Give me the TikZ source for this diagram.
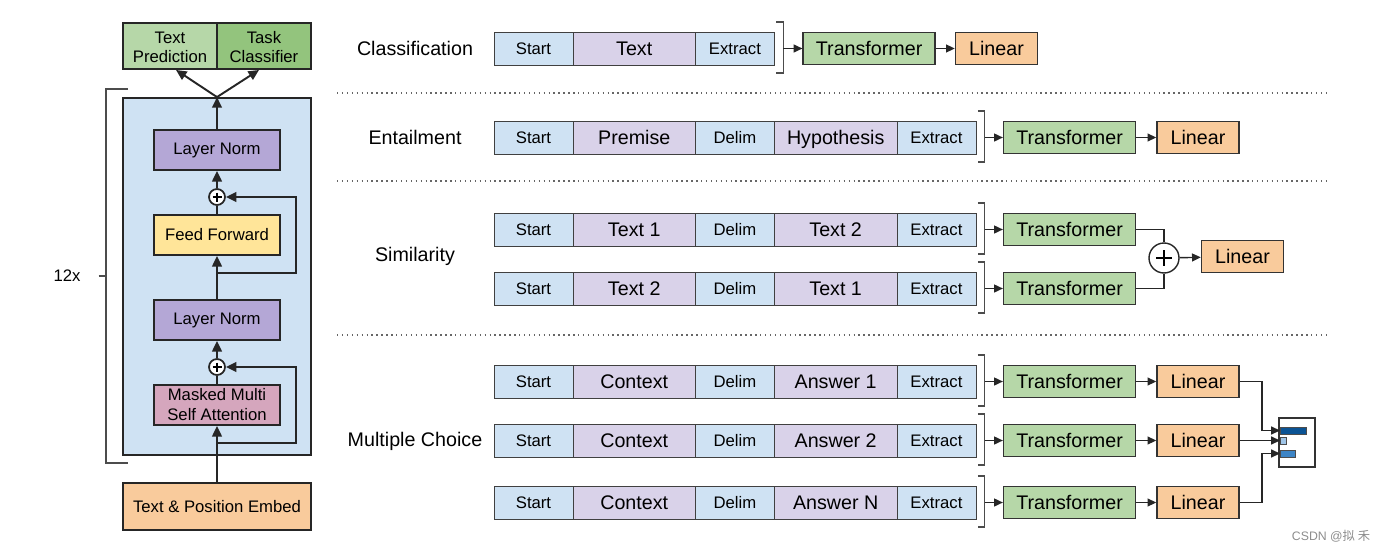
\documentclass[tikz,border=0pt]{standalone}
\usepackage{fontspec}
\setmainfont{Liberation Sans}
\newfontfamily\cjkfont{Noto Sans CJK SC}
\usetikzlibrary{arrows.meta,positioning,calc}
\definecolor{tokblue}{HTML}{CFE2F3}
\definecolor{tokpurple}{HTML}{D9D2E9}
\definecolor{normpurple}{HTML}{B4A7D6}
\definecolor{ffyellow}{HTML}{FFE599}
\definecolor{attpink}{HTML}{D5A6BD}
\definecolor{linorange}{HTML}{F9CB9C}
\definecolor{trfgreen}{HTML}{B6D7A8}
\definecolor{clsgreen}{HTML}{93C47D}
\definecolor{bardark}{HTML}{0B5394}
\definecolor{barmid}{HTML}{3D85C6}
\definecolor{barlight}{HTML}{9FC5E8}
\newcommand\tokfont{\fontsize{9.5}{11.4}\selectfont}
\newcommand\lblfont{\fontsize{11.2}{13.4}\selectfont}
\tikzset{
  tok/.style={draw=black!75, fill=tokblue, minimum width=1.58cm, minimum height=0.66cm, inner sep=0pt, outer sep=0pt, text height=7.8pt, text depth=1pt, font=\tokfont},
  wtok/.style={tok, fill=tokpurple, minimum width=2.45cm, text height=9pt, font=\lblfont},
  trf/.style={draw=black!80, thick, fill=trfgreen, minimum width=2.64cm, minimum height=0.63cm, inner sep=0pt, text height=9pt, text depth=1pt, font=\lblfont},
  lin/.style={trf, fill=linorange, minimum width=1.64cm},
  blkpart/.style={draw=black!85, line width=1.1pt, minimum width=2.52cm, minimum height=0.8cm, inner sep=0pt, align=center, font=\tokfont},
  pls/.style={circle, draw=black!85, line width=1pt, fill=white, minimum size=0.32cm, inner sep=0pt},
  arr/.style={-{Triangle[length=6pt,width=5.5pt]}, line width=1.1pt, black!85},
  wire/.style={line width=1.1pt, black!85},
  arr2/.style={-{Triangle[length=5pt,width=4.5pt]}, line width=0.8pt, black!85},
  wire2/.style={line width=0.8pt, black!85},
  brk/.style={line width=0.6pt, black!70},
  sep/.style={dotted, line width=0.8pt, black!60},
  lbl/.style={font=\lblfont}
}
\begin{document}
\begin{tikzpicture}[x=0.02cm, y=-0.02cm]
  \useasboundingbox (0,0) rectangle (1386,551);
  % left: transformer block
  \node[blkpart, fill=trfgreen, minimum width=1.88cm, minimum height=0.92cm, font=\fontsize{9.5}{11.3}\selectfont] (pred) at (170,46) {\rule{0pt}{1.6ex}Text\\Prediction};
  \node[blkpart, fill=clsgreen, minimum width=1.88cm, minimum height=0.92cm, font=\fontsize{9.5}{11.3}\selectfont] (clsf) at (264,46) {\rule{0pt}{1.6ex}Task\\Classifier};
  \node[blkpart, fill=tokblue, minimum width=3.76cm, minimum height=7.14cm] (blk) at (217,276.5) {};
  \node[blkpart, fill=normpurple] (ln1) at (217,150) {Layer Norm};
  \node[pls] (p1) at (217,197) {};
  \node[blkpart, fill=ffyellow] (ff) at (217,235) {Feed Forward};
  \node[blkpart, fill=normpurple] (ln2) at (217,320) {Layer Norm};
  \node[pls] (p2) at (217,367) {};
  \node[blkpart, fill=attpink] (att) at (217,405) {Masked Multi\\Self Attention};
  \node[blkpart, fill=linorange, minimum width=3.76cm, minimum height=0.94cm] (emb) at (217,506.5) {Text \& Position Embed};
  \foreach \p in {p1,p2}{
    \draw[line width=1pt] ($(\p)+(-4.5,0)$) -- ($(\p)+(4.5,0)$) ($(\p)+(0,-4.5)$) -- ($(\p)+(0,4.5)$);
  }
  \coordinate (r1) at (217,273);
  \coordinate (r2) at (217,443);
  \draw[arr] (emb) -- (att);
  \draw[wire] (att) -- (p2);
  \draw[arr] (r2) -- (296,443) |- (p2);
  \draw[arr] (p2) -- (ln2);
  \draw[arr] (ln2) -- (ff);
  \draw[wire] (ff) -- (p1);
  \draw[arr] (r1) -- (296,273) |- (p1);
  \draw[arr] (p1) -- (ln1);
  \draw[arr] (ln1) -- (blk.north);
  \draw[arr] (blk.north) -- ([xshift=0.12cm]pred.south);
  \draw[arr] (blk.north) -- ([xshift=-0.1cm]clsf.south);
  \node[font=\tokfont] (rep) at (67,276) {12x};
  \draw[brk] (128,89) -- (106,89) -- (106,463) -- (128,463);
  \draw[brk] ([xshift=0.24cm]rep.east) -- (106,276);
  % task labels and separators
  \node[lbl] (tcls) at (415,48) {Classification};
  \node[lbl] (tent) at (415,137) {Entailment};
  \node[lbl] (tsim) at (415,256) {Similarity};
  \node[lbl] (tmc) at (415,441) {Multiple Choice};
  \foreach \y in {93,181,335}{\draw[sep] (337,\y) -- (1327,\y);}
  % classification
  \node[tok, anchor=west] (c-s) at (494,48.5) {Start};
  \node[wtok, right=0pt of c-s] (c-a) {Text};
  \node[tok, right=0pt of c-a] (c-x) {Extract};
  \draw[brk] ($(c-x.north east)+(2,-10)$) -- ++(7,0) -- ($(c-x.south east)+(9,8)$) -- ++(-7,0);
  \coordinate (c-k) at ($(c-x.east)+(9,0)$);
  \node[trf, right=0.56cm of c-x] (c-t) {Transformer};
  \node[lin, right=0.38cm of c-t] (c-l) {Linear};
  \draw[arr2] (c-k) -- (c-t);
  \draw[arr2] (c-t) -- (c-l);
  % two-part inputs
  \foreach \r/\y/\a/\b in {e/137.5/Premise/Hypothesis, s1/229.5/Text 1/Text 2, s2/288.5/Text 2/Text 1, m1/381.5/Context/Answer 1, m2/440.5/Context/Answer 2, m3/502.5/Context/Answer N}{
    \node[tok, anchor=west] (\r-s) at (494,\y) {Start};
    \node[wtok, right=0pt of \r-s] (\r-a) {\a};
    \node[tok, right=0pt of \r-a] (\r-d) {Delim};
    \node[wtok, right=0pt of \r-d] (\r-b) {\b};
    \node[tok, right=0pt of \r-b] (\r-x) {Extract};
    \draw[brk] ($(\r-x.north east)+(2,-10)$) -- ++(7,0) -- ($(\r-x.south east)+(9,8)$) -- ++(-7,0);
    \coordinate (\r-k) at ($(\r-x.east)+(9,0)$);
    \node[trf, right=0.54cm of \r-x] (\r-t) {Transformer};
    \draw[arr2] (\r-k) -- (\r-t);
  }
  \node[lin, right=0.4cm of e-t] (e-l) {Linear};
  \draw[arr2] (e-t) -- (e-l);
  % similarity
  \node[circle, draw=black!85, line width=0.8pt, minimum size=0.6cm, inner sep=0pt] (splus) at (1164,258) {};
  \draw[line width=1.4pt] ($(splus)+(-8,0)$) -- ($(splus)+(8,0)$) ($(splus)+(0,-8)$) -- ($(splus)+(0,8)$);
  \node[lin] (s-l) at (1242.5,256.5) {Linear};
  \draw[wire2] (s1-t.east) -| (splus.north);
  \draw[wire2] (s2-t.east) -| (splus.south);
  \draw[arr2] (splus) -- (s-l);
  % multiple choice
  \foreach \r in {m1,m2,m3}{
    \node[lin, right=0.4cm of \r-t] (\r-l) {Linear};
    \draw[arr2] (\r-t) -- (\r-l);
  }
  \node[draw=black!80, line width=0.6pt, fill=white, minimum width=0.72cm, minimum height=0.98cm] (out) at (1297,442.5) {};
  \node[draw=black!70, line width=0.4pt, fill=bardark, minimum width=0.52cm, minimum height=0.14cm, inner sep=0pt, anchor=west] (b1) at (1280,430.5) {};
  \node[draw=black!70, line width=0.4pt, fill=barlight, minimum width=0.12cm, minimum height=0.14cm, inner sep=0pt, anchor=west] (b2) at (1280,440.5) {};
  \node[draw=black!70, line width=0.4pt, fill=barmid, minimum width=0.3cm, minimum height=0.14cm, inner sep=0pt, anchor=west] (b3) at (1280,453.5) {};
  \draw[arr2] (m1-l.east) -- (1262,381.5) |- (b1.west);
  \draw[arr2] (m2-l.east) -- (b2.west);
  \draw[arr2] (m3-l.east) -- (1262,502.5) |- (b3.west);
  \node[font=\fontsize{7}{8}\selectfont, text=black!45] (wm) at (1331,536) {CSDN @{\cjkfont 拟 禾}};
\end{tikzpicture}
\end{document}
